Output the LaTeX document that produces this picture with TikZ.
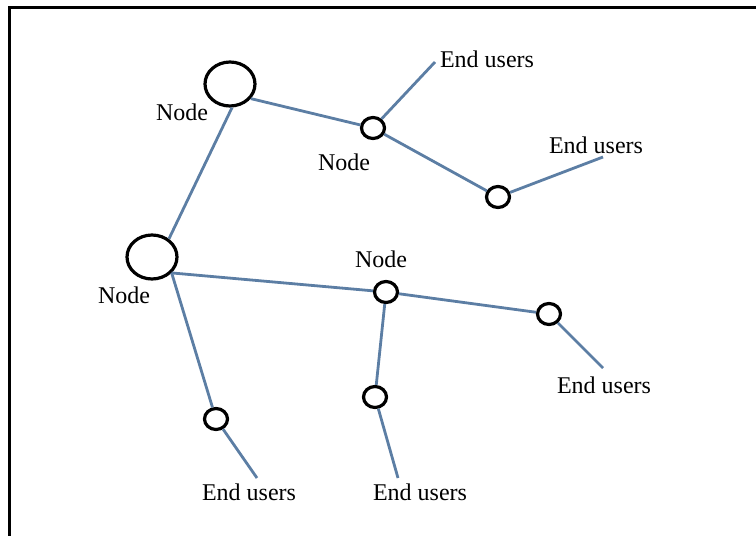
\documentclass[tikz,border=0pt]{standalone}
\usepackage{fontspec}
\setmainfont{Liberation Serif}
\usetikzlibrary{shapes.geometric}
\definecolor{linkblue}{RGB}{92,126,164}

\begin{document}
\begin{tikzpicture}[x=0.5pt, y=-0.5pt, font=\fontsize{12}{14}\selectfont]
\tikzstyle{hub}=[ellipse, draw=black, line width=1.6pt, minimum width=25pt, minimum height=22pt, inner sep=0pt]
\tikzstyle{site}=[ellipse, draw=black, line width=1.6pt, minimum width=11.5pt, minimum height=10.5pt, inner sep=0pt]
\tikzstyle{link}=[draw=linkblue, line width=1.4pt]

\useasboundingbox (0,0) rectangle (756,536);
\draw[line width=1.5pt] (9,536) -- (9,7) -- (756,7);

% nodes
\node[hub]  (A) at (230,84)  {};
\node[hub]  (B) at (152,257) {};
\node[site] (C) at (373,128) {};
\node[site] (D) at (498,197) {};
\node[site] (F) at (386,292) {};
\node[site] (G) at (549,314) {};
\node[site] (H) at (375,397) {};
\node[site] (I) at (216,419) {};

% loose ends
\coordinate (e1) at (435,62);
\coordinate (e2) at (603,157);
\coordinate (e3) at (603,368);
\coordinate (e4) at (398,478);
\coordinate (e5) at (257,478);

% labels
\node (lA) at (182,112) {Node};
\node (lB) at (124,295) {Node};
\node (lC) at (344,162) {Node};
\node (lF) at (381,259) {Node};
\node (u1) at (487,59)  {End users};
\node (u2) at (596,145) {End users};
\node (u3) at (604,385) {End users};
\node (u4) at (420,492) {End users};
\node (u5) at (249,492) {End users};

\path[link]
(A.-35) edge (C)
(A.-85) edge (B.47)
(C)     edge (e1)
(C)     edge (D)
(D)     edge (e2)
(B.-39) edge (F)
(B.-39) edge (I)
(F)     edge (G)
(G)     edge (e3)
(F)     edge (H)
(H)     edge (e4)
(I)     edge (e5);

\end{tikzpicture}
\end{document}
